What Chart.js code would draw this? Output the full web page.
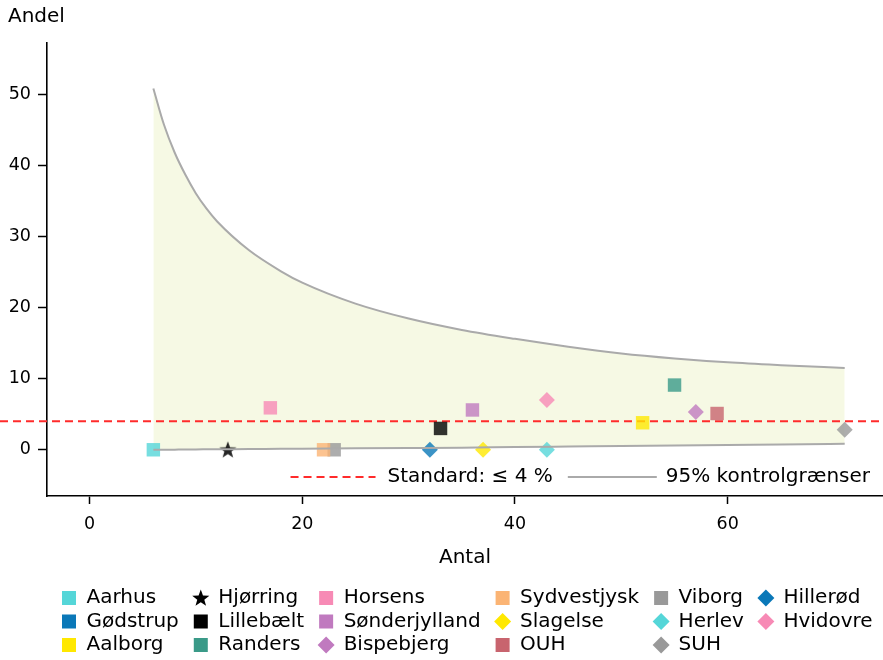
<!DOCTYPE html>
<html lang="da">
  <head>
    <meta charset="UTF-8" />
    <title>Andel vs antal</title>
    <script src="https://cdn.jsdelivr.net/npm/chart.js"></script>
    <style>
      body {
        margin: 0;
        padding: 0;
        background: #fff;
      }
      #wrap {
        width: 883px;
        height: 660px;
      }
    </style>
  </head>
  <body>
    <div id="wrap">
      <canvas id="chart" width="883" height="660"></canvas>
    </div>

    <script>
      // Data
      const HOSPITALS = [
        "Aarhus", "Gødstrup", "Aalborg",
        "Hjørring", "Lillebælt", "Randers",
        "Horsens", "Sønderjylland", "Bispebjerg",
        "Sydvestjysk", "Slagelse", "OUH",
        "Viborg", "Herlev", "SUH",
        "Hillerød", "Hvidovre",
      ];
      const ANTAL = [6, null, 52, 13, 33, 55, 17, 36, 57, 22, 37, 59, 23, 43, 71, 32, 43];
      const ANDEL = [0, null, 3.8, 0, 3.0, 9.1, 5.9, 5.6, 5.3, 0, 0, 5.1, 0, 0, 2.8, 0, 7.0];

      // 95% control limits, read at these counts
      const CL_N = [6, 7, 8, 9, 10, 11, 12, 15, 18, 20, 25, 30, 35, 40, 45, 50, 55, 60, 65, 71];
      const CL_UPPER = [50.8, 45.7, 41.8, 38.7, 36.05, 33.9, 32.1, 28.05, 25.1, 23.5, 20.55, 18.45, 16.85, 15.6, 14.5, 13.55, 12.85, 12.3, 11.9, 11.5];
      const CL_LOWER = [0, 0.01, 0.02, 0.03, 0.05, 0.06, 0.07, 0.1, 0.13, 0.15, 0.2, 0.25, 0.3, 0.38, 0.45, 0.52, 0.6, 0.67, 0.75, 0.83];

      const STANDARD = 4;
      const X_TICKS = [0, 20, 40, 60];
      const Y_TICKS = [0, 10, 20, 30, 40, 50];

      // styles
      const MARKERS = [
        "square", "square", "square",
        "star", "square", "square",
        "square", "square", "diamond",
        "square", "diamond", "square",
        "square", "diamond", "diamond",
        "diamond", "diamond",
      ];
      const COLORS = [
        "#55d6d8", "#0a78b8", "#ffe800",
        "#000000", "#000000", "#3a9a88",
        "#f78ab5", "#c07abf", "#c07abf",
        "#fbb474", "#ffe800", "#c8646e",
        "#999999", "#55d6d8", "#999999",
        "#0a78b8", "#f78ab5",
      ];

      const FONT = "'DejaVu Sans', sans-serif";
      const RED = "#ff2b2b";
      const GREY = "#aaaaaa";
      const BAND = "#f6f9e4";

      function withAlpha(hex, a) {
        const n = parseInt(hex.slice(1), 16);
        return `rgba(${(n >> 16) & 255},${(n >> 8) & 255},${n & 255},${a})`;
      }

      function starPath(ctx, x, y, outer, inner) {
        ctx.beginPath();
        for (let i = 0; i < 10; i++) {
          const r = i % 2 === 0 ? outer : inner;
          const a = -Math.PI / 2 + (i * Math.PI) / 5;
          ctx.lineTo(x + r * Math.cos(a), y + r * Math.sin(a));
        }
        ctx.closePath();
      }

      // filled star used as point style in the plot
      const starImg = document.createElement("canvas");
      starImg.width = 20;
      starImg.height = 20;
      (function () {
        const c = starImg.getContext("2d");
        c.fillStyle = "rgba(0,0,0,0.85)";
        starPath(c, 10, 10.5, 9, 3.7);
        c.fill();
      })();

      function drawMarker(ctx, kind, x, y, color) {
        ctx.fillStyle = color;
        if (kind === "square") {
          ctx.fillRect(x - 7, y - 7, 14, 14);
        } else if (kind === "diamond") {
          ctx.beginPath();
          ctx.moveTo(x, y - 8.5);
          ctx.lineTo(x + 8.5, y);
          ctx.lineTo(x, y + 8.5);
          ctx.lineTo(x - 8.5, y);
          ctx.closePath();
          ctx.fill();
        } else {
          starPath(ctx, x, y + 0.5, 9, 3.7);
          ctx.fill();
        }
      }

      const pointDatasets = HOSPITALS.map((name, i) => ({
        type: "scatter",
        label: name,
        data: ANTAL[i] == null ? [] : [{ x: ANTAL[i], y: ANDEL[i] }],
        pointStyle:
          MARKERS[i] === "square" ? "rect" : MARKERS[i] === "diamond" ? "rectRot" : starImg,
        pointRadius: MARKERS[i] === "square" ? 9.5 : 8,
        backgroundColor: withAlpha(COLORS[i], 0.8),
        borderWidth: 0,
      }));

      const limitDatasets = [
        {
          type: "line",
          label: "upper",
          data: CL_N.map((n, i) => ({ x: n, y: CL_UPPER[i] })),
          borderColor: GREY,
          borderWidth: 2,
          pointRadius: 0,
          cubicInterpolationMode: "monotone",
          fill: "+1",
          backgroundColor: BAND,
        },
        {
          type: "line",
          label: "lower",
          data: CL_N.map((n, i) => ({ x: n, y: CL_LOWER[i] })),
          borderColor: GREY,
          borderWidth: 2,
          pointRadius: 0,
          cubicInterpolationMode: "monotone",
          fill: false,
        },
      ];

      // red dashed standard line, full width of the figure
      const standardLine = {
        id: "standardLine",
        beforeDatasetsDraw(chart) {
          const y = chart.scales.y.getPixelForValue(STANDARD);
          const ctx = chart.ctx;
          ctx.save();
          ctx.strokeStyle = RED;
          ctx.lineWidth = 2;
          ctx.setLineDash([8, 5]);
          ctx.beginPath();
          ctx.moveTo(0, y);
          ctx.lineTo(chart.width, y);
          ctx.stroke();
          ctx.restore();
        },
      };

      // legend inside the axes, lower right
      const innerLegend = {
        id: "innerLegend",
        afterDraw(chart) {
          const ctx = chart.ctx;
          const area = chart.chartArea;
          const y = area.bottom - 19;
          ctx.save();
          ctx.font = `20px ${FONT}`;
          ctx.fillStyle = "#000";
          ctx.textBaseline = "middle";
          const t2 = "95% kontrolgrænser";
          const t1 = "Standard: \u2264 4 %";
          const x2 = area.right - 13 - ctx.measureText(t2).width;
          ctx.fillText(t2, x2, y);
          ctx.strokeStyle = GREY;
          ctx.lineWidth = 2;
          ctx.beginPath();
          ctx.moveTo(x2 - 98, y);
          ctx.lineTo(x2 - 9, y);
          ctx.stroke();
          const x1 = x2 - 98 - 15 - ctx.measureText(t1).width;
          ctx.fillText(t1, x1, y);
          ctx.strokeStyle = RED;
          ctx.setLineDash([8, 5]);
          ctx.beginPath();
          ctx.moveTo(x1 - 97, y);
          ctx.lineTo(x1 - 12, y);
          ctx.stroke();
          ctx.restore();
        },
      };

      // legend below the axes, filled column by column
      const bottomLegend = {
        id: "bottomLegend",
        afterDraw(chart) {
          const ctx = chart.ctx;
          const rows = [598, 621.5, 645];
          ctx.save();
          ctx.font = `20px ${FONT}`;
          ctx.textBaseline = "middle";
          let x = 62;
          for (let c = 0; c * 3 < HOSPITALS.length; c++) {
            let widest = 0;
            for (let r = 0; r < 3; r++) {
              const i = c * 3 + r;
              if (i >= HOSPITALS.length) break;
              drawMarker(ctx, MARKERS[i], x + 7, rows[r], COLORS[i]);
              ctx.fillStyle = "#000";
              ctx.fillText(HOSPITALS[i], x + 24.5, rows[r]);
              widest = Math.max(widest, ctx.measureText(HOSPITALS[i]).width);
            }
            x = x + 24.5 + widest + 15;
          }
          ctx.restore();
        },
      };

      new Chart(document.getElementById("chart"), {
        type: "scatter",
        data: { datasets: [...limitDatasets, ...pointDatasets] },
        options: {
          responsive: false,
          animation: false,
          events: [],
          layout: {
            autoPadding: false,
            padding: { left: 8, right: 0, top: 0, bottom: 84 },
          },
          plugins: {
            legend: { display: false },
            tooltip: { enabled: false },
            filler: { drawTime: "beforeDatasetsDraw" },
            title: {
              display: true,
              text: "Andel",
              align: "start",
              color: "#000",
              font: { family: FONT, size: 20, weight: "normal" },
              padding: { top: 5, bottom: 14 },
            },
          },
          scales: {
            x: {
              type: "linear",
              min: -4,
              max: 74.6,
              afterBuildTicks: (s) => {
                s.ticks = X_TICKS.map((v) => ({ value: v }));
              },
              afterFit: (s) => {
                s.height = 80;
                s.paddingLeft = 0;
                s.paddingRight = 0;
              },
              ticks: { color: "#000", font: { family: FONT, size: 17.5 }, padding: 10 },
              grid: {
                drawOnChartArea: false,
                tickLength: 8,
                tickColor: "#000",
                tickWidth: 1.5,
              },
              border: { color: "#000", width: 1.6 },
              title: {
                display: true,
                text: "Antal",
                color: "#000",
                font: { family: FONT, size: 20 },
                padding: { top: 0, bottom: 6 },
              },
            },
            y: {
              type: "linear",
              min: -6.5,
              max: 57.2,
              afterBuildTicks: (s) => {
                s.ticks = Y_TICKS.map((v) => ({ value: v }));
              },
              afterFit: (s) => {
                s.width = 39;
              },
              ticks: { color: "#000", font: { family: FONT, size: 17.5 }, padding: 7 },
              grid: {
                drawOnChartArea: false,
                tickLength: 9,
                tickColor: "#000",
                tickWidth: 1.5,
              },
              border: { color: "#000", width: 1.6 },
            },
          },
        },
        plugins: [standardLine, innerLegend, bottomLegend],
      });
    </script>
  </body>
</html>
